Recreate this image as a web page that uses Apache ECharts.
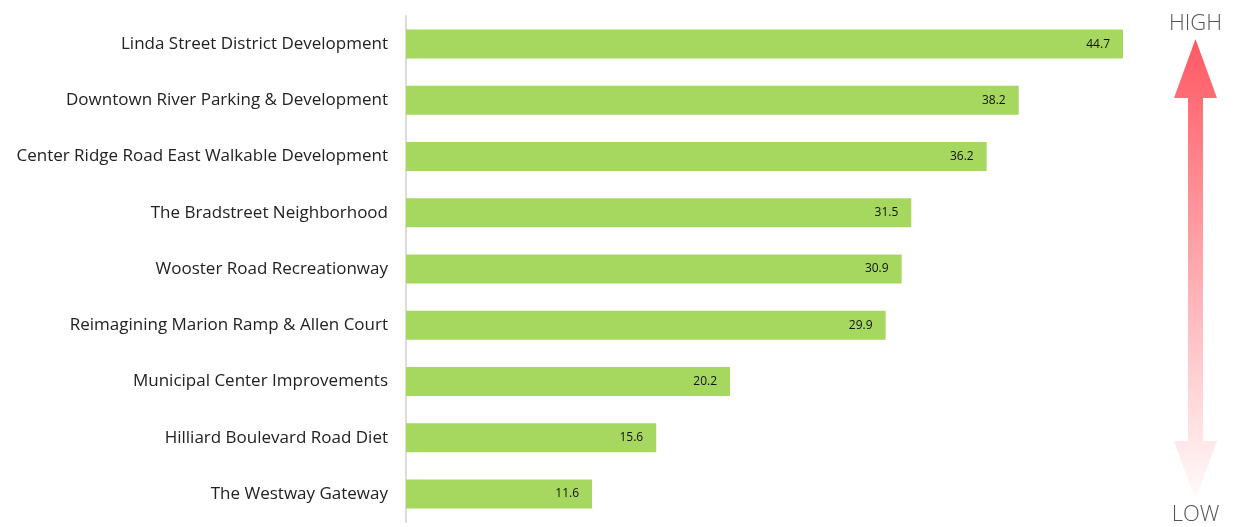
<!DOCTYPE html>
<html>
<head>
<meta charset="utf-8">
<script src="https://cdn.jsdelivr.net/npm/echarts@6/dist/echarts.min.js"></script>
<style>html,body{margin:0;padding:0;background:#fff;}#c{width:1236px;height:527px;}</style>
</head>
<body>
<div id="c"></div>
<script>
const categories = [
  "Linda Street District Development",
  "Downtown River Parking & Development",
  "Center Ridge Road East Walkable Development",
  "The Bradstreet Neighborhood",
  "Wooster Road Recreationway",
  "Reimagining Marion Ramp & Allen Court",
  "Municipal Center Improvements",
  "Hilliard Boulevard Road Diet",
  "The Westway Gateway"
];
const scores = [44.7, 38.2, 36.2, 31.5, 30.9, 29.9, 20.2, 15.6, 11.6];
const scaleLabels = ["HIGH", "LOW"];

const chart = echarts.init(document.getElementById('c'));
const arrowGrad = new echarts.graphic.LinearGradient(0, 0, 0, 1, [
  {offset: 0, color: 'rgba(255,88,98,1)'},
  {offset: 1, color: 'rgba(255,88,98,0.02)'}
]);
chart.setOption({
  animation: false,
  textStyle: {fontFamily: 'Open Sans'},
  grid: {left: 406, right: 28, top: 16, bottom: 5, containLabel: false},
  xAxis: {
    type: 'value', min: 0, max: 50,
    show: false
  },
  yAxis: {
    type: 'category', data: categories, inverse: true,
    axisLine: {show: true, lineStyle: {color: '#dcdcdc', width: 2}},
    axisTick: {show: false},
    axisLabel: {color: '#222', fontSize: 17, margin: 18, fontFamily: 'Open Sans'}
  },
  series: [{
    type: 'bar', data: scores, barWidth: 29,
    itemStyle: {color: '#a6d75f'},
    label: {
      show: true, position: 'insideRight', color: '#111', fontSize: 12, distance: 13,
      fontFamily: 'Open Sans',
      formatter: p => p.value.toFixed(1)
    }
  }],
  graphic: [
    {
      type: 'polygon',
      shape: {points: [
        [1195.5, 39], [1217, 98], [1203, 98], [1203, 441], [1217, 441],
        [1195.5, 500], [1174, 441], [1188, 441], [1188, 98], [1174, 98]
      ]},
      style: {fill: arrowGrad}
    },
    {
      type: 'text',
      style: {text: scaleLabels[0], x: 1195.5, y: 24, fill: '#555', fontSize: 22, fontFamily: 'Open Sans', fontWeight: 300, align: 'center', verticalAlign: 'middle'}
    },
    {
      type: 'text',
      style: {text: scaleLabels[1], x: 1195.5, y: 515, fill: '#555', fontSize: 22, fontFamily: 'Open Sans', fontWeight: 300, align: 'center', verticalAlign: 'middle'}
    }
  ]
});
</script>
</body>
</html>
